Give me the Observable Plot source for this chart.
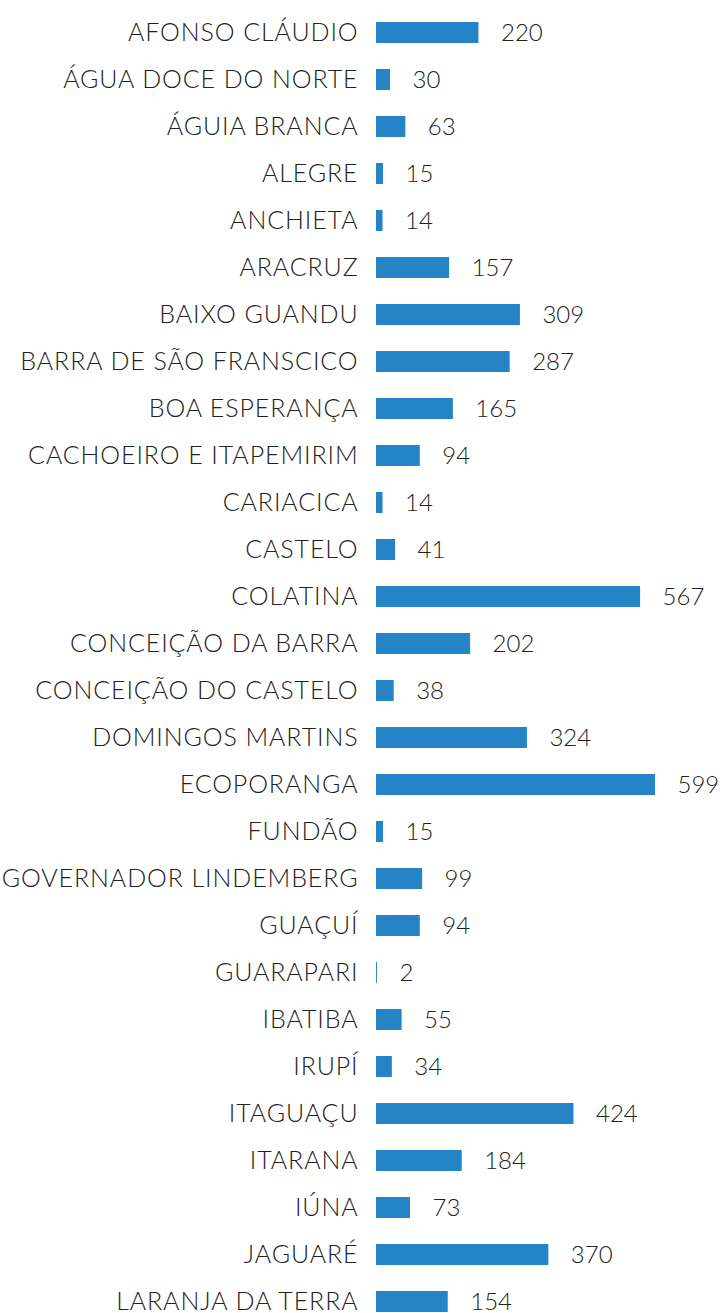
<!DOCTYPE html>
<html>
<head>
<meta charset="utf-8">
<script src="https://cdn.jsdelivr.net/npm/d3@7"></script>
<script src="https://cdn.jsdelivr.net/npm/@observablehq/plot@0.6"></script>
<style>
  html, body { margin: 0; padding: 0; background: #fff; }
  #chart svg { display: block; }
</style>
</head>
<body>
<div id="chart"></div>
<script>
const municipios = [
  "AFONSO CLÁUDIO", "ÁGUA DOCE DO NORTE", "ÁGUIA BRANCA", "ALEGRE", "ANCHIETA",
  "ARACRUZ", "BAIXO GUANDU", "BARRA DE SÃO FRANSCICO", "BOA ESPERANÇA",
  "CACHOEIRO E ITAPEMIRIM", "CARIACICA", "CASTELO", "COLATINA",
  "CONCEIÇÃO DA BARRA", "CONCEIÇÃO DO CASTELO", "DOMINGOS MARTINS", "ECOPORANGA",
  "FUNDÃO", "GOVERNADOR LINDEMBERG", "GUAÇUÍ", "GUARAPARI", "IBATIBA", "IRUPÍ",
  "ITAGUAÇU", "ITARANA", "IÚNA", "JAGUARÉ", "LARANJA DA TERRA"
];
const valores = [
  220, 30, 63, 15, 14, 157, 309, 287, 165, 94, 14, 41, 567, 202, 38, 324, 599,
  15, 99, 94, 2, 55, 34, 424, 184, 73, 370, 154
];
const data = municipios.map((m, i) => ({municipio: m, valor: valores[i]}));

const chart = Plot.plot({
  width: 720,
  height: 1313,
  marginLeft: 376,
  marginRight: 65,
  marginTop: 21,
  marginBottom: 0,
  style: {fontFamily: "Lato", fontWeight: 300, fontSize: "24px", color: "#222", background: "#fff"},
  x: {domain: [0, 599], range: [376, 655], axis: null},
  y: {domain: municipios, paddingInner: 0.55, paddingOuter: 0, label: null},
  marks: [
    Plot.axisY({tickSize: 0, tickPadding: 18, fontSize: 25, fill: "#222", label: null}),
    Plot.barX(data, {x: "valor", y: "municipio", fill: "#2484c6"}),
    Plot.text(data, {x: "valor", y: "municipio", text: d => String(d.valor), textAnchor: "start", dx: 22, fontSize: 24, fill: "#222"})
  ]
});
d3.select(chart).selectAll('g[aria-label="y-axis tick label"] text').attr("letter-spacing", "0.9px");
document.getElementById("chart").appendChild(chart);
</script>
</body>
</html>
